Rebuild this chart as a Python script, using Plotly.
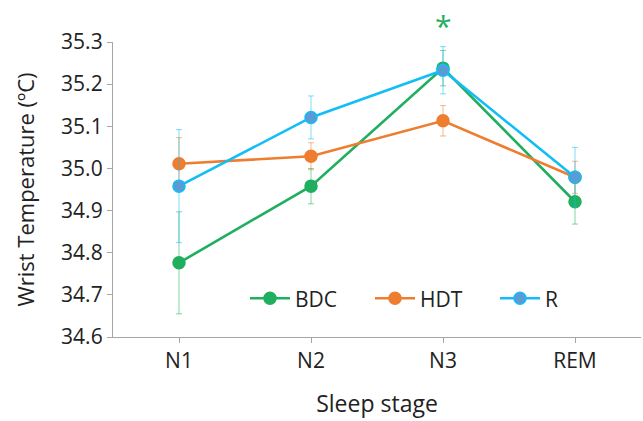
import plotly.graph_objects as go

# Wrist temperature by sleep stage for three groups (mean ± SE)
stages = ["N1", "N2", "N3", "REM"]

bdc_mean = [34.776, 34.958, 35.238, 34.921]
bdc_err = [0.121, 0.042, 0.042, 0.053]

hdt_mean = [35.011, 35.029, 35.113, 34.979]
hdt_err = [0.062, 0.032, 0.036, 0.038]

r_mean = [34.958, 35.121, 35.233, 34.979]
r_err = [0.134, 0.051, 0.056, 0.071]

y_ticks = [34.6, 34.7, 34.8, 34.9, 35.0, 35.1, 35.2, 35.3]

FONT = "Open Sans"
fig = go.Figure()


def add_series(name, mean, err, line_color, marker_color, err_color):
    fig.add_trace(go.Scatter(
        x=stages, y=mean, name=name, mode="lines+markers",
        line=dict(color=line_color, width=2.6),
        marker=dict(size=12, color=marker_color,
                    line=dict(color=line_color, width=1.5)),
        error_y=dict(type="data", array=err, visible=True,
                     color=err_color, thickness=1, width=3),
        cliponaxis=False,
    ))


add_series("BDC", bdc_mean, bdc_err, "#1FAF5E", "#1FAF5E", "rgba(31,175,94,0.55)")
add_series("HDT", hdt_mean, hdt_err, "#EE7D30", "#EE7D30", "rgba(238,125,48,0.55)")
add_series("R", r_mean, r_err, "#12BEF5", "#5B9BD5", "rgba(18,190,245,0.55)")

# significance marker above N3
fig.add_annotation(x="N3", y=1.0, xref="x", yref="paper", yanchor="bottom", yshift=-6,
                   text="*", showarrow=False,
                   font=dict(size=30, color="#1FAF5E", family=FONT))

fig.update_layout(
    width=643, height=421,
    margin=dict(l=113, r=2, t=42, b=84),
    paper_bgcolor="white", plot_bgcolor="white",
    font=dict(family=FONT, size=21, color="#222222"),
    showlegend=True,
    legend=dict(orientation="h", x=0.25, y=0.13, xanchor="left", yanchor="middle",
                font=dict(size=21, family=FONT), bgcolor="rgba(0,0,0,0)",
                itemwidth=40, entrywidth=70, entrywidthmode="pixels"),
    xaxis=dict(
        type="category", categoryorder="array", categoryarray=stages,
        range=[-0.5, 3.5], showline=True, linecolor="#A6A6A6", linewidth=1.3,
        ticks="outside", ticklen=5, tickcolor="#A6A6A6", showgrid=False,
        zeroline=False, tickfont=dict(size=21, family=FONT),
        title=dict(text="Sleep stage", font=dict(size=23, family=FONT), standoff=22),
    ),
    yaxis=dict(
        range=[34.6, 35.3], tickvals=y_ticks, tickformat=".1f",
        showline=True, linecolor="#A6A6A6", linewidth=1.3,
        ticks="outside", ticklen=5, tickcolor="#A6A6A6", showgrid=False,
        zeroline=False, tickfont=dict(size=21, family=FONT),
        title=dict(text="Wrist Temperature (ºC)", font=dict(size=22, family=FONT), standoff=20),
    ),
)

fig.write_html("out.html")
